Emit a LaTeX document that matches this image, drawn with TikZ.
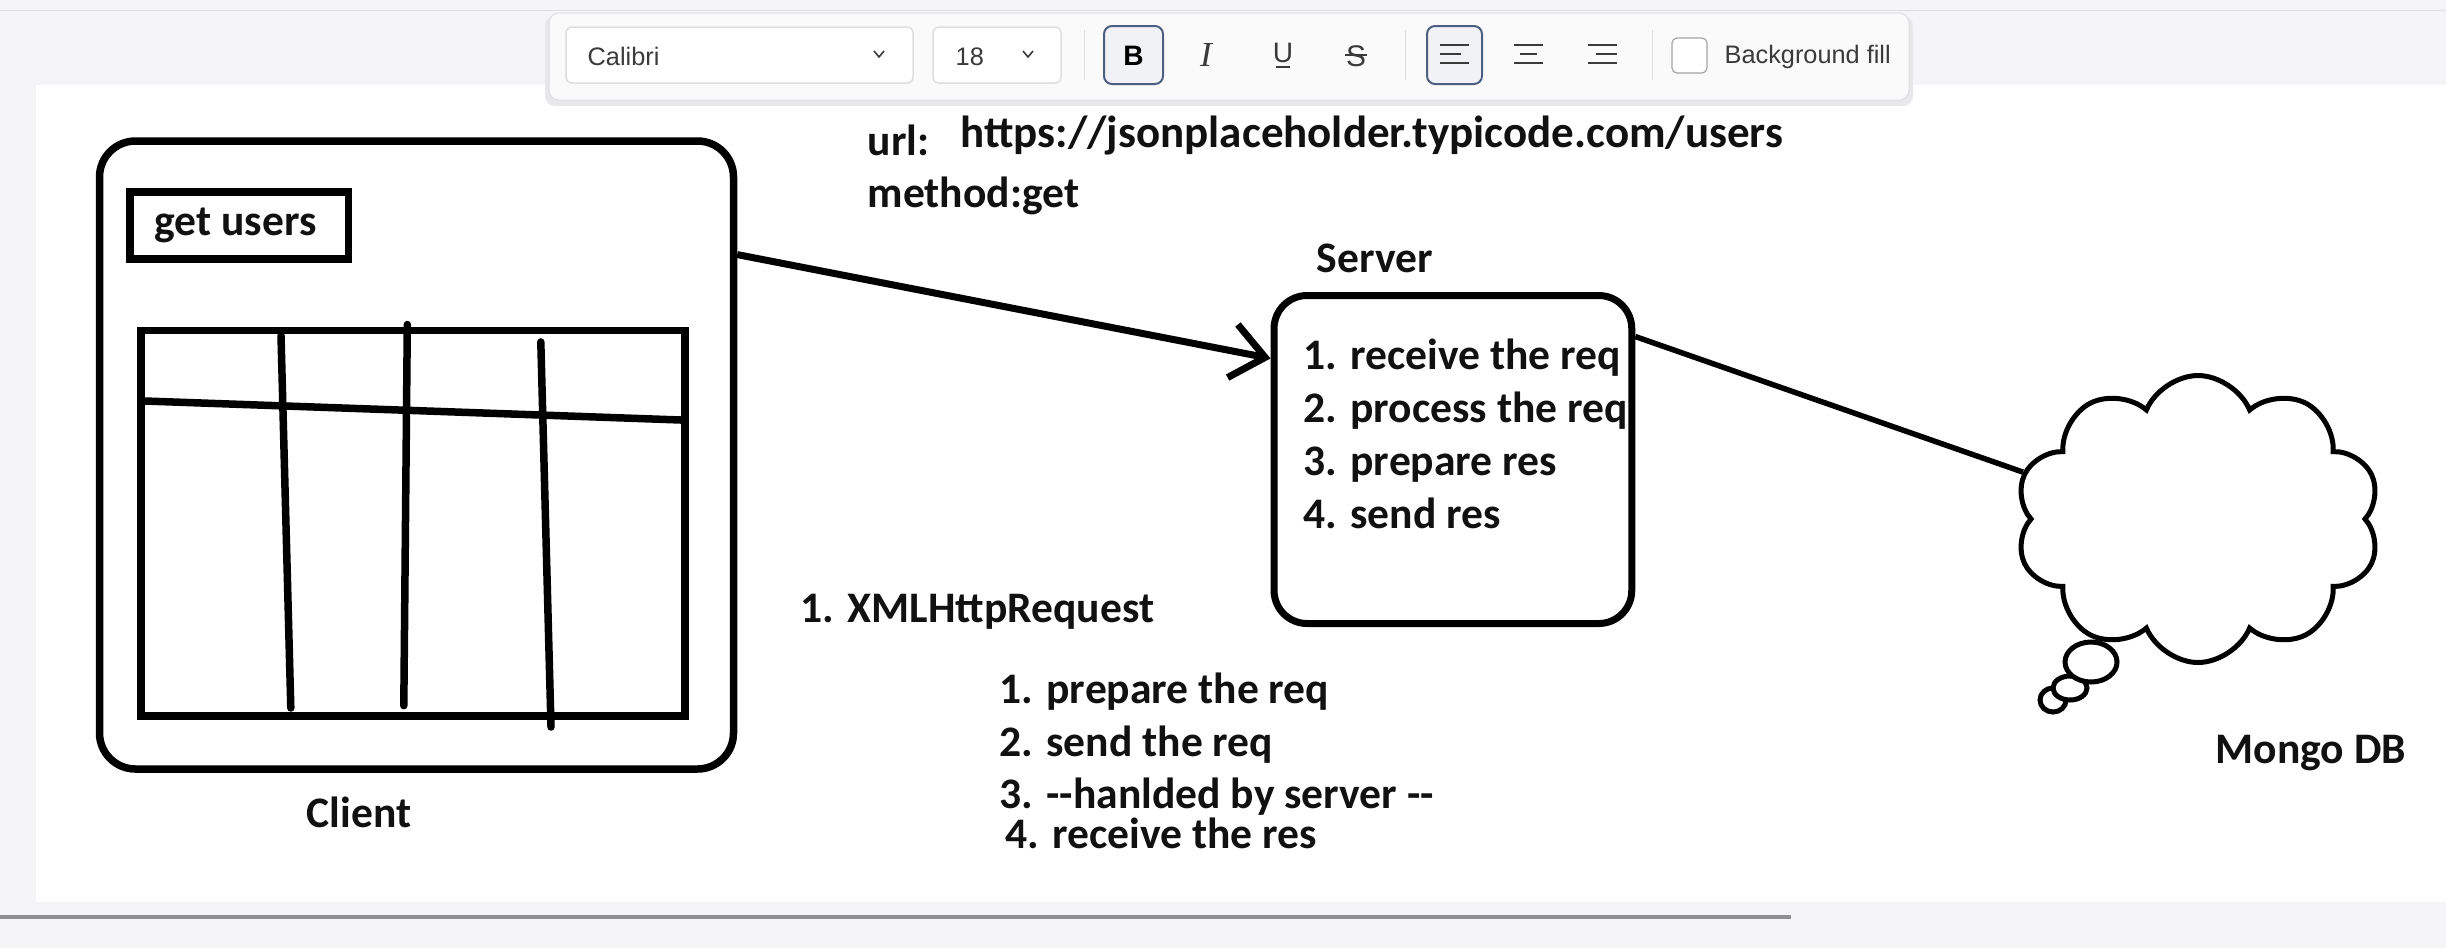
\documentclass[tikz,border=0pt]{standalone}
\usepackage{fontspec}
\usepackage{tikz}
\usetikzlibrary{arrows.meta,positioning,shapes.geometric,shapes.symbols}
\newfontfamily\wbhand{Carlito}
\newfontfamily\wbsans{Liberation Sans}
\newfontfamily\wbserif{Liberation Serif}
\definecolor{wbink}   {HTML}{000000}
\definecolor{wbtxt}   {HTML}{111111}
\definecolor{wbdesk}  {HTML}{F5F5F7}
\definecolor{wbpanel} {HTML}{FAFAFA}
\definecolor{wbshade} {HTML}{E8E8EB}
\definecolor{wbrule}  {HTML}{DEDEE2}
\definecolor{wbbtn}   {HTML}{4C5F80}
\definecolor{wbbtnbg} {HTML}{F0F2F6}
\definecolor{wbicon}  {HTML}{3A3A3A}
\definecolor{wbbar}   {HTML}{8E8E92}
\tikzset{
  wbbox/.style={draw=wbink, line width=0.7mm, rounded corners=3.4mm, inner sep=0pt},
  wbframe/.style={draw=wbink, line width=0.75mm, inner sep=0pt},
  wbtext/.style={font=\wbhand\bfseries\fontsize{12.4}{15}\selectfont, text=wbtxt, inner sep=0pt},
  wbedge/.style={draw=wbink, line width=0.7mm},
  wbarrow/.style={wbedge, -{Straight Barb[length=3.3mm,width=5.4mm]}},
  wbcloud/.style={cloud, cloud puffs=10, cloud puff arc=135, aspect=1.27,
                  draw=wbink, line width=0.5mm, fill=white, inner sep=0pt},
  wbbubble/.style={ellipse, draw=wbink, line width=0.5mm, fill=white, inner sep=0pt},
  wbui/.style={font=\wbsans\fontsize{7.2}{8}\selectfont, text=wbicon, inner sep=0pt},
  wbdrop/.style={draw=wbrule, fill=white, rounded corners=0.6mm, line width=0.15mm},
  wbbtnon/.style={draw=wbbtn, fill=wbbtnbg, rounded corners=0.8mm, line width=0.2mm},
  wbglyph/.style={draw=wbicon, line width=0.16mm},
}
\begin{document}
\begin{tikzpicture}[x=0.1mm,y=-0.1mm]
  \useasboundingbox (0,0) rectangle (2446,948);
  % desk, paper and scroll bar
  \fill[wbdesk] (0,0) rectangle (2446,948);
  \draw[wbrule, line width=0.1mm] (0,10) -- (2446,10);
  \fill[white] (36,85) rectangle (2446,902);
  \draw[wbbar, line width=0.35mm] (0,917) -- (1791,917);

  % format toolbar
  \fill[wbshade, rounded corners=1mm] (545,16) rectangle (1913,106);
  \filldraw[fill=wbpanel, draw=wbrule, line width=0.1mm, rounded corners=1mm] (549,13) rectangle (1909,100);
  \node[wbdrop, minimum width=34.7mm, minimum height=5.6mm] (fontbox) at (739.5,55) {};
  \node[wbui, anchor=base west] (fontname) at (587,65) {Calibri};
  \draw[wbglyph] (874,51) -- (879,57) -- (884,51);
  \node[wbdrop, minimum width=12.8mm, minimum height=5.6mm] (sizebox) at (997,55) {};
  \node[wbui, anchor=base west] (fontsize) at (955,65) {18};
  \draw[wbglyph] (1023,51) -- (1028,57) -- (1033,51);
  \foreach \x in {1084,1405,1652}
    \draw[wbrule, line width=0.1mm] (\x,30) -- (\x,80);
  \node[wbbtnon, minimum width=5.9mm, minimum height=5.8mm] (boldbtn) at (1133.5,55) {};
  \node[wbui, font=\wbsans\bfseries\fontsize{8}{9}\selectfont, text=black] (boldglyph) at (1133.5,56) {B};
  \node[wbui, font=\wbserif\itshape\fontsize{10}{10}\selectfont] (italglyph) at (1206,55) {I};
  \node[wbui, font=\wbsans\fontsize{8}{9}\selectfont] (undlglyph) at (1283,53) {U};
  \draw[wbglyph] (1276,67) -- (1290,67);
  \node[wbui, font=\wbsans\fontsize{8.5}{9}\selectfont] (strkglyph) at (1356,56) {S};
  \draw[wbglyph] (1345,55) -- (1367,55);
  \node[wbbtnon, minimum width=5.5mm, minimum height=5.8mm] (leftbtn) at (1454.5,55) {};
  \foreach \xa/\xb/\ma/\mb in {1440/1469/1440/1461, 1514/1543/1520/1537, 1588/1617/1596/1617}
    {\draw[wbglyph] (\xa,45) -- (\xb,45) (\ma,54) -- (\mb,54) (\xa,63) -- (\xb,63);}
  \node[draw=wbbar!80, fill=white, rounded corners=0.5mm, line width=0.12mm,
        minimum width=3.5mm, minimum height=3.5mm, inner sep=0pt] (fillbox) at (1689.5,55.5) {};
  \node[wbui, anchor=base west] (filllbl) at (1724,63) {Background fill};

  % client
  \node[wbbox, line width=0.75mm, rounded corners=3.6mm, minimum width=63.4mm, minimum height=62.8mm] (client) at (416.5,455) {};
  \node[wbframe, minimum width=21.85mm, minimum height=6.7mm] (getbtn) at (239,225.5) {};
  \node[wbtext, anchor=base west] (getlbl) at (154,235) {get users};
  \node[wbframe, minimum width=54.4mm, minimum height=38.55mm] (table) at (413,523.25) {};
  \draw[wbedge, line width=0.75mm] (145,401) -- (681,420);
  \foreach \xa/\ya/\xb/\yb in {281/335.6/290.8/708, 407.3/324.5/403.8/705.7, 540.8/341.9/551/727}
    \draw[wbedge, line width=0.75mm, line cap=round] (\xa,\ya) -- (\xb,\yb);
  \node[wbtext, anchor=base] (clientlbl) at (359,827) {Client};

  % request
  \node[wbtext, anchor=base west] (urlkey) at (867,155) {url:};
  \node[wbtext, font=\wbhand\bfseries\fontsize{12.8}{15}\selectfont, anchor=base west] (urlval) at (960,147) {https://jsonplaceholder.typicode.com/users};
  \node[wbtext, anchor=base west] (method) at (867,207) {method:get};
  \node[wbtext, anchor=base west] (xhr) at (800,622) {1. XMLHttpRequest};
  \foreach \x/\y/\t in {999/703/{1. prepare the req}, 999/756/{2. send the req},
                        999/808/{3. --hanlded by server --}, 1005/848/{4. receive the res}}
    \node[wbtext, anchor=base west] at (\x,\y) {\t};

  % server
  \node[wbtext, anchor=base] (srvlbl) at (1375,272) {Server};
  \begin{scope}
    \clip[rounded corners=3.3mm] (1274,295.5) rectangle (1631.7,623.5);
    \foreach \n/\t in {0/{1. receive the req}, 1/{2. process the req}, 2/{3. prepare res}, 3/{4. send res}}
      \node[wbtext, anchor=base west] (step\n) at (1303,369+53.3*\n) {\t};
  \end{scope}
  \node[wbbox, rounded corners=3.3mm, minimum width=35.77mm, minimum height=32.8mm] (server) at (1452.9,459.5) {};

  % database
  \node[wbcloud, minimum width=36.5mm, minimum height=28.7mm] (mongo) at (2198,519) {};
  \node[wbbubble, minimum width=2.6mm, minimum height=2.4mm] (bub3) at (2053,700) {};
  \node[wbbubble, minimum width=3.4mm, minimum height=2.4mm] (bub2) at (2070,688) {};
  \node[wbbubble, minimum width=5.2mm, minimum height=4mm] (bub1) at (2091,662) {};
  \node[wbtext, anchor=base west] (mongolbl) at (2215,763) {Mongo DB};

  \draw[wbarrow] (client.32.4) -- (server.151.4);
  \draw[wbedge, line width=0.55mm] (server.34) -- (mongo.165);
\end{tikzpicture}
\end{document}
